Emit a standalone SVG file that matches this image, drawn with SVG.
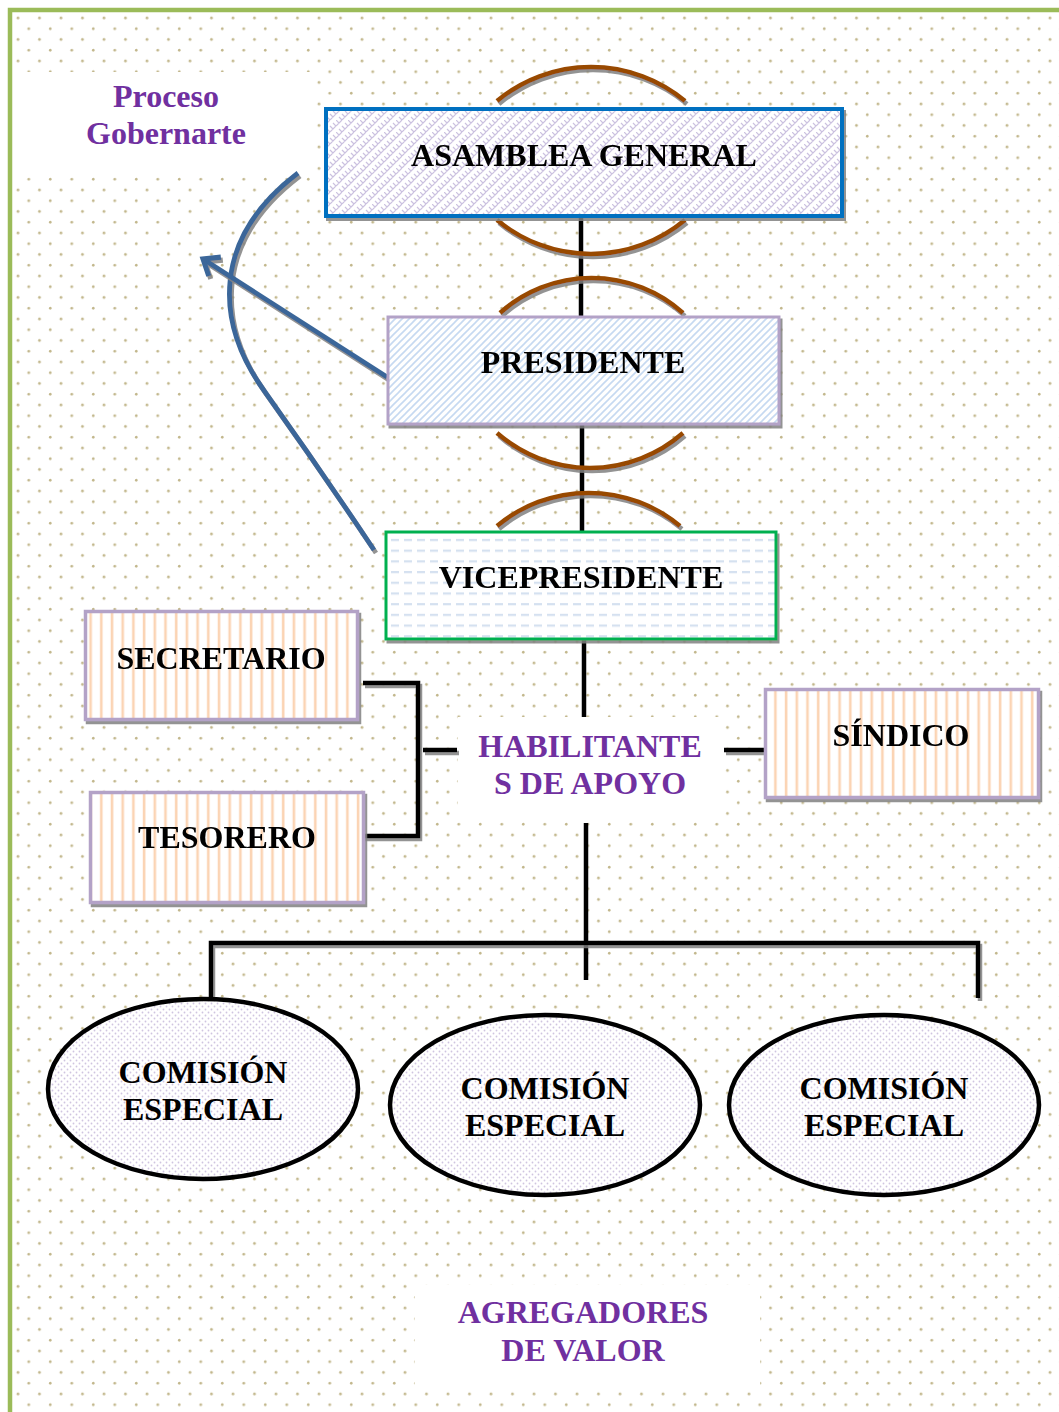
<svg xmlns="http://www.w3.org/2000/svg" width="1059" height="1412" viewBox="0 0 1059 1412">
<defs>
  <pattern id="bgdots" width="21.5" height="21.5" patternUnits="userSpaceOnUse" x="7" y="7">
    <circle cx="11" cy="11" r="1.35" fill="#c2b78c"/>
    <circle cx="0.25" cy="0.25" r="1.35" fill="#c2b78c"/>
    <circle cx="21.75" cy="0.25" r="1.35" fill="#c2b78c"/>
    <circle cx="0.25" cy="21.75" r="1.35" fill="#c2b78c"/>
    <circle cx="21.75" cy="21.75" r="1.35" fill="#c2b78c"/>
  </pattern>
  <pattern id="weave" width="12" height="12" patternUnits="userSpaceOnUse">
    <rect width="12" height="12" fill="#ffffff"/>
    <path d="M0 6 L6 0 M6 12 L12 6 M3 9 L6 12 M6 6 L9 9 M0 0 L3 3 M9 3 L12 6" stroke="#cbc1e0" stroke-width="1.2" fill="none"/>
  </pattern>
  <pattern id="diag" width="7" height="7" patternUnits="userSpaceOnUse">
    <rect width="7" height="7" fill="#ffffff"/>
    <path d="M-1 8 L8 -1 M-1 1 L1 -1 M6 8 L8 6" stroke="#c6d9f1" stroke-width="1.6"/>
  </pattern>
  <pattern id="dash" width="13" height="10.7" patternUnits="userSpaceOnUse">
    <rect width="13" height="10.7" fill="#ffffff"/>
    <line x1="1" y1="5" x2="9" y2="5" stroke="#d5e1f0" stroke-width="2.2"/>
  </pattern>
  <pattern id="stripes" width="10.7" height="10" patternUnits="userSpaceOnUse">
    <rect width="10.7" height="10" fill="#ffffff"/>
    <line x1="5" y1="0" x2="5" y2="10" stroke="#fbd4b4" stroke-width="2.6"/>
  </pattern>
  <pattern id="edots" width="6" height="6" patternUnits="userSpaceOnUse">
    <rect width="6" height="6" fill="#ffffff"/>
    <circle cx="1.5" cy="1.5" r="0.9" fill="#cfc5e0"/>
    <circle cx="4.5" cy="4.5" r="0.9" fill="#cfc5e0"/>
  </pattern>
  <filter id="sh" filterUnits="userSpaceOnUse" x="0" y="0" width="1059" height="1412">
    <feDropShadow dx="2" dy="3" stdDeviation="0.6" flood-color="#808080" flood-opacity="0.85"/>
  </filter>
  <marker id="open" viewBox="0 0 20 20" refX="17" refY="10" markerWidth="28" markerHeight="28" markerUnits="userSpaceOnUse" orient="auto" overflow="visible">
    <path d="M7 2 L17 10 L7 18" fill="none" stroke="#3a6699" stroke-width="3.6" stroke-linejoin="miter"/>
  </marker>
</defs>
<style>
  .lbl { font-family: "Liberation Serif", "Times New Roman", serif; font-weight: bold; font-size: 32px; fill: #000000; text-anchor: middle; }
  .pur { font-family: "Liberation Serif", "Times New Roman", serif; font-weight: bold; font-size: 32px; fill: #7030a0; text-anchor: middle; }
  .arc { fill: none; stroke: #984806; stroke-width: 4.5; filter: url(#sh); }
  .ln { fill: none; stroke: #000000; stroke-width: 4.5; }
  .lns { fill: none; stroke: #000000; stroke-width: 4.5; filter: url(#sh); }
  .blue { fill: none; stroke: #3a6699; stroke-width: 4.8; filter: url(#sh); }
  .box { filter: url(#sh); }
</style>

<!-- background -->
<rect x="0" y="0" width="1059" height="1412" fill="#ffffff"/>
<rect x="10" y="10" width="1049" height="1402" fill="url(#bgdots)"/>
<rect x="14" y="72" width="298" height="102" fill="#ffffff"/>
<rect x="458" y="717" width="265" height="103" fill="#ffffff"/>
<rect x="415" y="1285" width="345" height="100" fill="#ffffff"/>
<path d="M10 1412 L10 10 L1059 10" fill="none" stroke="#9bbb59" stroke-width="4.5"/>

<!-- connectors -->
<g id="connectors">
  <path class="ln" d="M581 217 V316"/>
  <path class="ln" d="M582 425 V531"/>
  <path class="ln" d="M584 640 V717"/>
  <path class="ln" d="M586 823 V980"/>
  <path class="lns" d="M211 998 V943 H978 V998"/>
  <path class="lns" d="M363 683 H418 V836 H362"/>
  <path class="lns" d="M423 750 H457"/>
  <path class="lns" d="M724 750 H765"/>
  <path class="arc" d="M497 101 A147 147 0 0 1 685 101"/>
  <path class="arc" d="M497 220 A147 147 0 0 0 685 220"/>
  <path class="arc" d="M500 313 A137 137 0 0 1 683 313"/>
  <path class="arc" d="M497 433 A141 141 0 0 0 683 433"/>
  <path class="arc" d="M497 526 A143 143 0 0 1 680 526"/>
  <path class="blue" d="M298 173 C 212 238 214 322 265 392 Q 322 472 374 550"/>
  <path class="blue" d="M387 377 L203 259" marker-end="url(#open)"/>
</g>

<g id="proceso">
  <text class="pur" x="166" y="107">Proceso</text>
  <text class="pur" x="166" y="144">Gobernarte</text>
</g>

<g id="asamblea" class="box">
  <rect x="326" y="109" width="516" height="107" fill="url(#weave)" stroke="#0070c0" stroke-width="4"/>
  <text class="lbl" x="584" y="166">ASAMBLEA GENERAL</text>
</g>

<g id="presidente" class="box">
  <rect x="388" y="317" width="391" height="107" fill="url(#diag)" stroke="#b3a2c7" stroke-width="3"/>
  <text class="lbl" x="583" y="373">PRESIDENTE</text>
</g>

<g id="vicepresidente" class="box">
  <rect x="386" y="532" width="390" height="107" fill="url(#dash)" stroke="#00b050" stroke-width="3"/>
  <text class="lbl" x="581" y="588">VICEPRESIDENTE</text>
</g>

<g id="secretario" class="box">
  <rect x="85.5" y="611.5" width="272" height="108" fill="url(#stripes)" stroke="#b3a2c7" stroke-width="3.5"/>
  <text class="lbl" x="221" y="669">SECRETARIO</text>
</g>

<g id="tesorero" class="box">
  <rect x="90.5" y="792.5" width="273" height="110" fill="url(#stripes)" stroke="#b3a2c7" stroke-width="3.5"/>
  <text class="lbl" x="227" y="848">TESORERO</text>
</g>

<g id="habilitantes">
  <text class="pur" x="590" y="757">HABILITANTE</text>
  <text class="pur" x="590" y="794">S DE APOYO</text>
</g>

<g id="sindico" class="box">
  <rect x="765.5" y="689.5" width="273" height="108" fill="url(#stripes)" stroke="#b3a2c7" stroke-width="3.5"/>
  <text class="lbl" x="901" y="746">SÍNDICO</text>
</g>

<g id="comision1">
  <ellipse cx="203" cy="1089" rx="155" ry="90" fill="url(#edots)" stroke="#000000" stroke-width="4.5"/>
  <text class="lbl" x="203" y="1083">COMISIÓN</text>
  <text class="lbl" x="203" y="1120">ESPECIAL</text>
</g>

<g id="comision2">
  <ellipse cx="545" cy="1105" rx="155" ry="90" fill="url(#edots)" stroke="#000000" stroke-width="4.5"/>
  <text class="lbl" x="545" y="1099">COMISIÓN</text>
  <text class="lbl" x="545" y="1136">ESPECIAL</text>
</g>

<g id="comision3">
  <ellipse cx="884" cy="1105" rx="155" ry="90" fill="url(#edots)" stroke="#000000" stroke-width="4.5"/>
  <text class="lbl" x="884" y="1099">COMISIÓN</text>
  <text class="lbl" x="884" y="1136">ESPECIAL</text>
</g>

<g id="agregadores">
  <text class="pur" x="583" y="1323">AGREGADORES</text>
  <text class="pur" x="583" y="1361">DE VALOR</text>
</g>
</svg>
